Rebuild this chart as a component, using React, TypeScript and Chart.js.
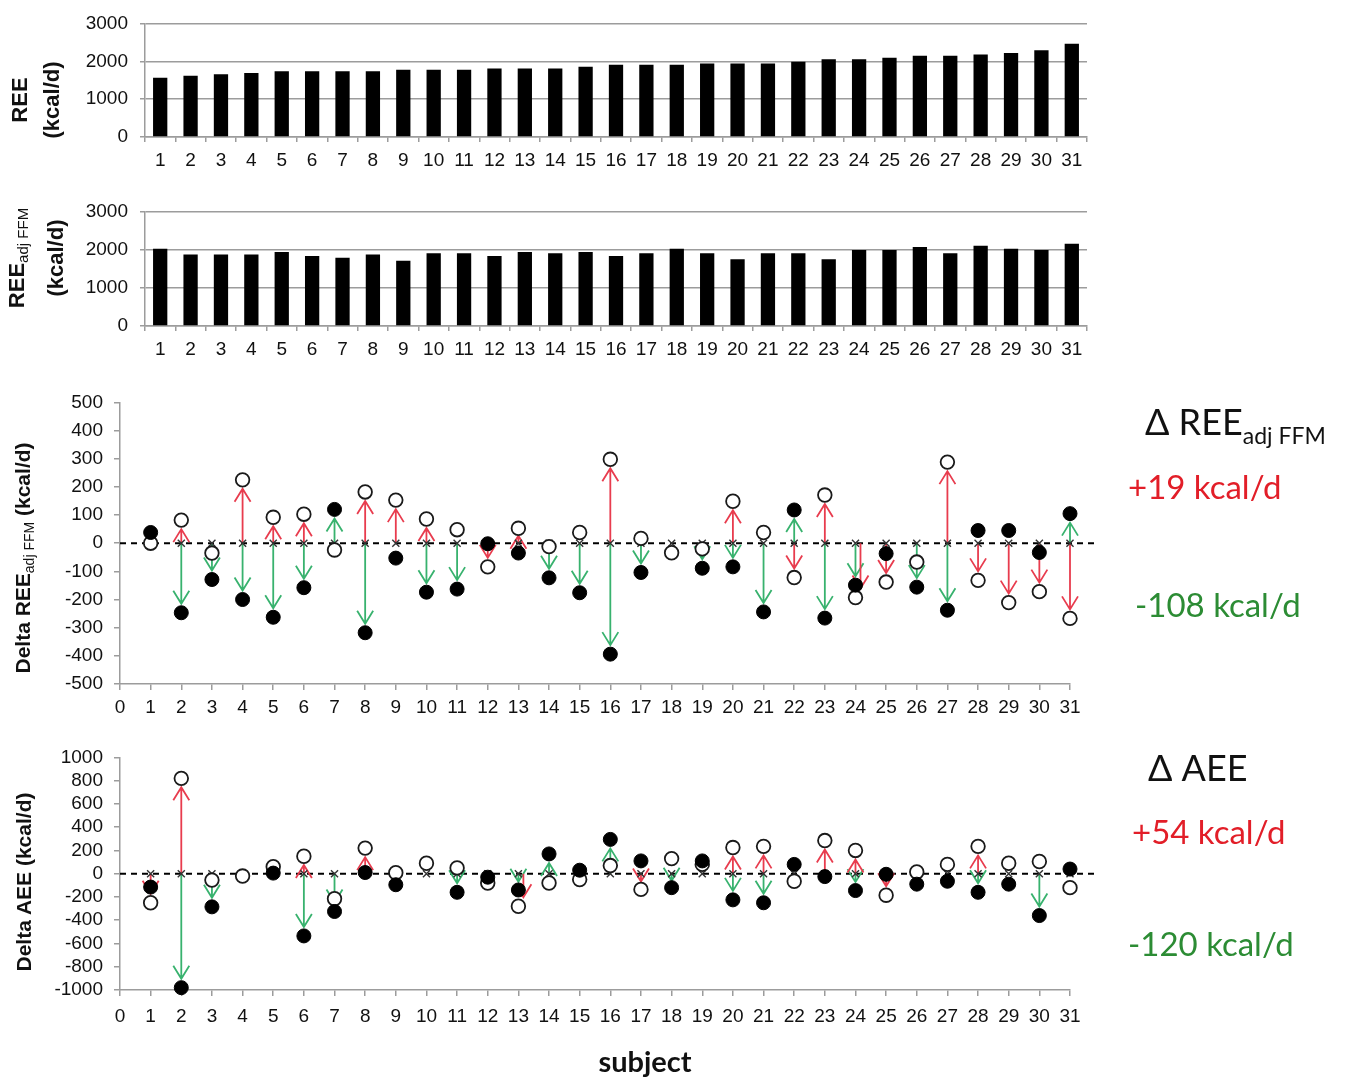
import React, { useEffect, useRef } from 'react';
import { Chart, registerables } from 'chart.js';

Chart.register(...registerables);

// ---------- data ----------
const subjects = ['1', '2', '3', '4', '5', '6', '7', '8', '9', '10', '11', '12', '13', '14', '15', '16',
  '17', '18', '19', '20', '21', '22', '23', '24', '25', '26', '27', '28', '29', '30', '31'];

const reeValues = [1565, 1615, 1655, 1690, 1735, 1735, 1735, 1735, 1775, 1775, 1775, 1810, 1810, 1810,
  1855, 1905, 1905, 1905, 1940, 1940, 1940, 1985, 2050, 2050, 2095, 2145, 2145, 2180, 2220, 2290, 2465];

const reeAdjFfmValues = [2025, 1870, 1870, 1870, 1940, 1830, 1785, 1870, 1710, 1905, 1905, 1830, 1940, 1905,
  1940, 1830, 1905, 2025, 1905, 1750, 1905, 1905, 1750, 1990, 1990, 2065, 1905, 2100, 2025, 1990, 2150];

const barYTicks = [0, 1000, 2000, 3000];

// Delta REE adj FFM (kcal/d)
const deltaReeOpen = [0, 82, -35, 225, 92, 103, -24, 182, 153, 86, 48, -84, 53, -12, 38, 298,
  17, -34, -20, 149, 38, -122, 171, -193, -138, -67, 288, -132, -211, -172, -267];
const deltaReeFilled: (number | null)[] = [38, -247, -129, -200, -263, -158, 120, -318, -53, -174, -163, -2, -35, -123, -176, -394,
  -104, null, -89, -84, -244, 118, -266, -149, -37, -156, -238, 45, 45, -33, 105];
const deltaReeRedArrow = [0, 1, 0, 1, 1, 1, 0, 1, 1, 1, 0, 1, 1, 0, 0, 1,
  0, 0, 0, 1, 0, 1, 1, 1, 1, 0, 1, 1, 1, 1, 1];
const deltaReeGreenArrow = [0, 1, 1, 1, 1, 1, 1, 1, 0, 1, 1, 0, 0, 1, 1, 1,
  1, 0, 1, 1, 1, 1, 1, 1, 0, 1, 1, 0, 0, 0, 1];
const deltaReeTicks = [-500, -400, -300, -200, -100, 0, 100, 200, 300, 400, 500];

// Delta AEE (kcal/d)
const deltaAeeOpen = [-250, 820, -55, -20, 60, 150, -215, 220, 8, 90, 50, -80, -280, -80, -50, 70,
  -135, 130, 80, 225, 235, -65, 285, 200, -185, 15, 80, 235, 90, 105, -120];
const deltaAeeFilled: (number | null)[] = [-115, -980, -285, null, 5, -535, -325, 10, -95, null, -160, -30, -140, 170, 30, 295,
  110, -120, 110, -225, -250, 80, -25, -145, -5, -90, -65, -160, -90, -360, 40];
const deltaAeeRedArrow = [1, 1, 0, 0, 0, 1, 0, 1, 0, 0, 0, 0, 1, 0, 0, 0,
  1, 0, 0, 1, 1, 0, 1, 1, 1, 0, 0, 1, 0, 0, 0];
const deltaAeeGreenArrow = [0, 1, 1, 0, 0, 1, 1, 0, 0, 0, 1, 0, 1, 1, 0, 1,
  0, 1, 0, 1, 1, 0, 0, 1, 0, 0, 0, 1, 0, 1, 0];
const deltaAeeTicks = [-1000, -800, -600, -400, -200, 0, 200, 400, 600, 800, 1000];

const xTicks = [0, 31];

// ---------- styles ----------
const W = 1345;
const GRAY = '#9c9c9c';
const RED = 'rgb(232,60,78)';
const GREEN = 'rgb(56,178,110)';
const TEXT_RED = 'rgb(226,30,40)';
const TEXT_GREEN = 'rgb(44,140,52)';
const TICK_FONT = { family: "'Liberation Sans', Arial, sans-serif", size: 19 };

function barConfig(values: number[], canvasH: number, chartTop: number, chartBottom: number): any {
  return {
    type: 'bar',
    data: {
      labels: subjects,
      datasets: [{ data: values, backgroundColor: '#000', borderWidth: 0, barPercentage: 0.47, categoryPercentage: 1 }],
    },
    options: {
      animation: false,
      responsive: false,
      maintainAspectRatio: false,
      layout: { padding: { left: 0, right: W - 1087, top: chartTop, bottom: 0 } },
      plugins: { legend: { display: false }, tooltip: { enabled: false } },
      scales: {
        x: {
          grid: { offset: true, drawOnChartArea: false, drawTicks: true, tickLength: 5, color: GRAY, lineWidth: 1.5 },
          border: { color: GRAY, width: 1.5 },
          ticks: { autoSkip: false, maxRotation: 0, padding: 7, color: '#111', font: TICK_FONT },
          afterFit: (s: any) => { s.height = canvasH - chartBottom; },
        },
        y: {
          min: barYTicks[0],
          max: barYTicks[barYTicks.length - 1],
          ticks: { autoSkip: false, stepSize: barYTicks[1] - barYTicks[0], callback: (v: any) => String(v), padding: 12, color: '#111', font: TICK_FONT },
          grid: { color: GRAY, lineWidth: 1.5, tickLength: 5 },
          border: { color: GRAY, width: 1.5 },
          afterFit: (s: any) => { s.width = 145; },
        },
      },
    },
  };
}

function drawArrow(ctx: CanvasRenderingContext2D, x: number, y0: number, yT: number, color: string) {
  const dir = yT > y0 ? 1 : -1;
  const len = Math.abs(yT - y0);
  const tipLen = Math.max(len - 9, len * 0.5);
  const yTip = y0 + dir * tipLen;
  ctx.strokeStyle = color;
  ctx.lineWidth = 1.8;
  ctx.beginPath();
  ctx.moveTo(x, y0);
  ctx.lineTo(x, yTip);
  ctx.moveTo(x - 8, yTip - dir * 13);
  ctx.lineTo(x, yTip);
  ctx.lineTo(x + 8, yTip - dir * 13);
  ctx.stroke();
}

function deltaConfig(open: number[], filled: (number | null)[], redFlags: number[], greenFlags: number[],
  yTicks: number[], canvasH: number, chartTop: number, chartBottom: number, labelPad: number): any {
  const pts = (vals: (number | null)[]) =>
    vals.map((v, i) => (v === null ? null : { x: i + 1, y: v })).filter((p) => p !== null);
  const arrows = {
    id: 'arrows',
    beforeDatasetsDraw(chart: any) {
      const { ctx, chartArea, scales } = chart;
      const xs = scales.x;
      const ys = scales.y;
      const y0 = ys.getPixelForValue(0);
      ctx.save();
      ctx.setLineDash([6, 5]);
      ctx.lineWidth = 2;
      ctx.strokeStyle = '#000';
      ctx.beginPath();
      ctx.moveTo(chartArea.left, y0);
      ctx.lineTo(chartArea.right + 24, y0);
      ctx.stroke();
      ctx.setLineDash([]);
      subjects.forEach((_, i) => {
        const px = xs.getPixelForValue(i + 1);
        const f = filled[i];
        const o = open[i];
        const bothSameSide = greenFlags[i] && redFlags[i] && f !== null && Math.sign(f) === Math.sign(o);
        if (greenFlags[i] && f !== null) drawArrow(ctx, px, y0, ys.getPixelForValue(f), GREEN);
        if (redFlags[i]) drawArrow(ctx, px + (bothSameSide ? 5 : 0), y0, ys.getPixelForValue(o), RED);
      });
      ctx.restore();
    },
  };
  return {
    type: 'scatter',
    data: {
      datasets: [
        { data: pts(filled), pointRadius: 7, backgroundColor: '#000', borderColor: '#000', borderWidth: 1, clip: false },
        { data: pts(open), pointRadius: 6.8, backgroundColor: '#fff', borderColor: '#1a1a1a', borderWidth: 1.8, clip: false },
        { data: subjects.map((_, i) => ({ x: i + 1, y: 0 })), pointStyle: 'crossRot', pointRadius: 5, borderColor: '#333', borderWidth: 1.4, clip: false },
      ],
    },
    plugins: [arrows],
    options: {
      animation: false,
      responsive: false,
      maintainAspectRatio: false,
      layout: { padding: { left: 0, right: W - 1070, top: chartTop, bottom: 0 } },
      plugins: { legend: { display: false }, tooltip: { enabled: false } },
      scales: {
        x: {
          type: 'linear',
          min: xTicks[0],
          max: xTicks[1],
          ticks: { stepSize: 1, autoSkip: false, maxRotation: 0, padding: labelPad, color: '#111', font: TICK_FONT },
          grid: { drawOnChartArea: false, drawTicks: true, tickLength: 6, color: GRAY, lineWidth: 1.5 },
          border: { color: GRAY, width: 1.5 },
          afterFit: (s: any) => { s.height = canvasH - chartBottom; },
        },
        y: {
          min: yTicks[0],
          max: yTicks[yTicks.length - 1],
          ticks: { autoSkip: false, stepSize: yTicks[1] - yTicks[0], callback: (v: any) => String(v), padding: 11, color: '#111', font: TICK_FONT },
          grid: { drawOnChartArea: false, drawTicks: true, tickLength: 6, color: GRAY, lineWidth: 1.5 },
          border: { color: GRAY, width: 1.5 },
          afterFit: (s: any) => { s.width = 120; },
        },
      },
    },
  };
}

function ChartCanvas({ make, top, height }: { make: () => any; top: number; height: number }) {
  const ref = useRef<HTMLCanvasElement>(null);
  useEffect(() => {
    const chart = new Chart(ref.current as HTMLCanvasElement, make());
    return () => chart.destroy();
  }, []);
  return (
    <canvas ref={ref} width={W} height={height}
      style={{ position: 'absolute', left: 0, top, width: W, height, display: 'block' }} />
  );
}

const AXIS_TITLE: React.CSSProperties = {
  position: 'absolute',
  transform: 'translate(-50%, -50%) rotate(-90deg)',
  whiteSpace: 'nowrap',
  textAlign: 'center',
  fontFamily: "'Liberation Sans', Arial, sans-serif",
  fontWeight: 'bold',
  fontSize: 21,
  color: '#111',
};

const NOTE: React.CSSProperties = {
  position: 'absolute',
  transform: 'translateY(-50%)',
  whiteSpace: 'nowrap',
  fontFamily: "Lato, 'Open Sans', sans-serif",
  lineHeight: 1,
};

export default function App() {
  return (
    <div style={{ position: 'fixed', left: 0, top: 0, width: W, height: 1077, background: '#fff', overflow: 'hidden' }}>
      <ChartCanvas top={0} height={180} make={() => barConfig(reeValues, 180, 20, 137)} />
      <ChartCanvas top={188} height={180} make={() => barConfig(reeAdjFfmValues, 180, 20, 138)} />
      <ChartCanvas top={380} height={350}
        make={() => deltaConfig(deltaReeOpen, deltaReeFilled, deltaReeRedArrow, deltaReeGreenArrow, deltaReeTicks, 350, 20, 304, 6)} />
      <ChartCanvas top={735} height={310}
        make={() => deltaConfig(deltaAeeOpen, deltaAeeFilled, deltaAeeRedArrow, deltaAeeGreenArrow, deltaAeeTicks, 310, 17, 255, 9)} />

      <div style={{ ...AXIS_TITLE, left: 36, top: 100, lineHeight: '32px', fontSize: 22 }}>REE<br />(kcal/d)</div>
      <div style={{ ...AXIS_TITLE, left: 36, top: 258, lineHeight: '32px', fontSize: 22 }}>
        REE<span style={{ fontSize: 15, fontWeight: 'normal', verticalAlign: '-0.3em' }}>adj FFM</span><br />(kcal/d)
      </div>
      <div style={{ ...AXIS_TITLE, left: 24, top: 558 }}>
        Delta REE<span style={{ fontSize: 14, fontWeight: 'normal', verticalAlign: '-0.3em' }}>adj FFM</span> (kcal/d)
      </div>
      <div style={{ ...AXIS_TITLE, left: 24, top: 882 }}>Delta AEE (kcal/d)</div>

      <div style={{ ...NOTE, left: 1145, top: 425, fontSize: 36, color: '#111' }}>
        Δ REE<span style={{ fontSize: 23, verticalAlign: '-0.35em' }}>adj FFM</span>
      </div>
      <div style={{ ...NOTE, left: 1128, top: 486, fontSize: 33, color: TEXT_RED }}>+19 kcal/d</div>
      <div style={{ ...NOTE, left: 1135, top: 604, fontSize: 33, color: TEXT_GREEN }}>-108 kcal/d</div>
      <div style={{ ...NOTE, left: 1148, top: 767, fontSize: 36, color: '#111' }}>Δ AEE</div>
      <div style={{ ...NOTE, left: 1132, top: 831, fontSize: 33, color: TEXT_RED }}>+54 kcal/d</div>
      <div style={{ ...NOTE, left: 1128, top: 943, fontSize: 33, color: TEXT_GREEN }}>-120 kcal/d</div>

      <div style={{ ...NOTE, left: 645, top: 1060, transform: 'translate(-50%, -50%)', fontSize: 29, fontWeight: 'bold', color: '#111' }}>
        subject
      </div>
    </div>
  );
}
